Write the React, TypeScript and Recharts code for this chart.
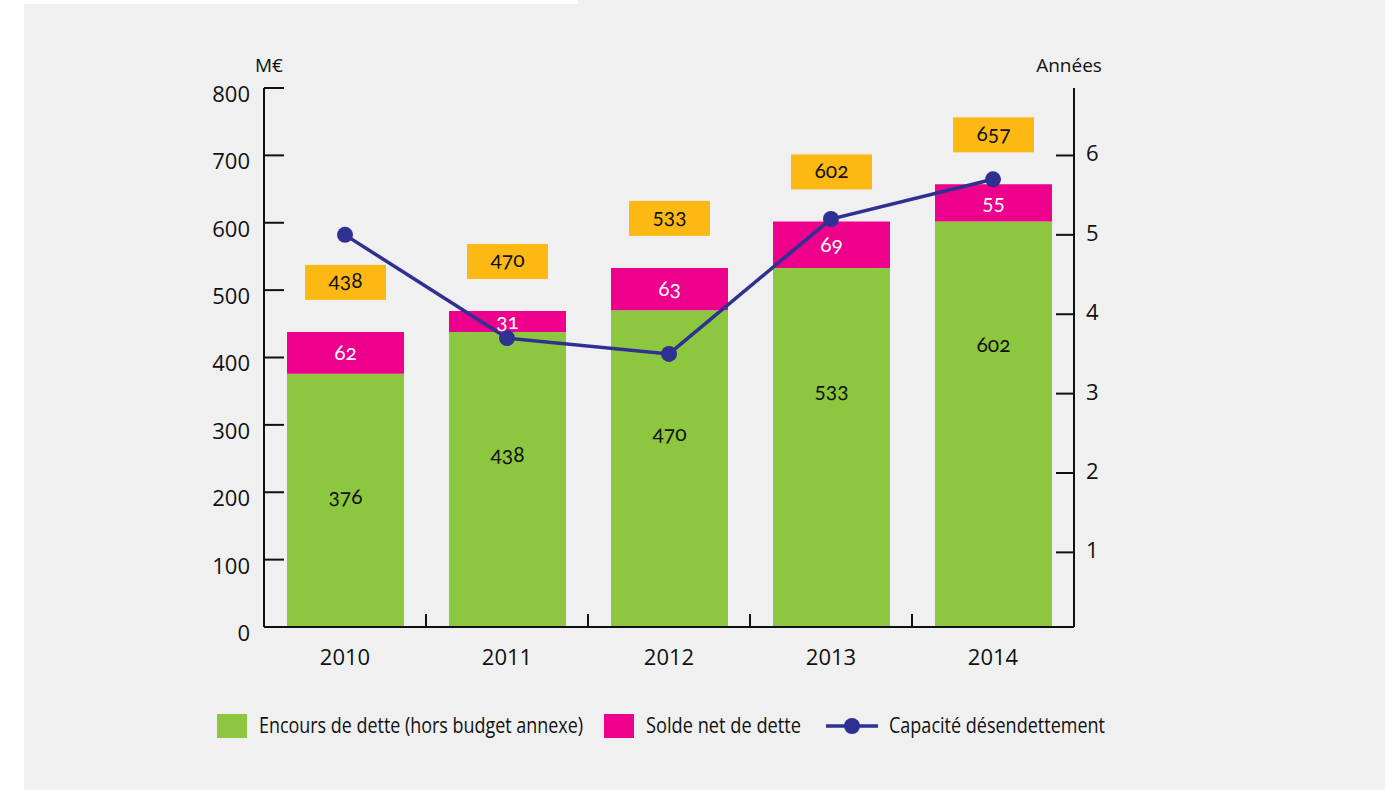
import React from "react";
import { ComposedChart, Bar, Line, XAxis, YAxis, LabelList } from "recharts";

const years = ["2010", "2011", "2012", "2013", "2014"];
const encours = [376, 438, 470, 533, 602];
const soldeNet = [62, 31, 63, 69, 55];
const totals = [438, 470, 533, 602, 657];
const capacite = [5.0, 3.7, 3.5, 5.2, 5.7];
const leftTicks = [0, 100, 200, 300, 400, 500, 600, 700, 800];
const rightTicks = [1, 2, 3, 4, 5, 6];

const GREEN = "#8dc63f";
const PINK = "#ec008c";
const ORANGE = "#fdb913";
const BLUE = "#2e3192";
const BG = "#f0f0f0";
const INK = "#111";

const W = 1397;
const H = 790;
const PLOT = { left: 264, top: 88, right: 1074, bottom: 627 };
const AXIS_W = 60;
const XAXIS_H = 50;
const BAND = (PLOT.right - PLOT.left) / years.length;

const TICK_FONT = "'Open Sans', sans-serif";
const LABEL_FONT = "Lato, 'Noto Sans', sans-serif";
const LEGEND_FONT = "'Open Sans', sans-serif";

const data = years.map((year, i) => ({
  year,
  encours: encours[i],
  solde: soldeNet[i],
  total: totals[i],
  capacite: capacite[i],
}));

const numStyle = { fontVariantNumeric: "oldstyle-nums", fontFeatureSettings: '"onum"' } as const;

function LeftTick(p: any) {
  const ax = p.x + 14;
  return (
    <g>
      <line x1={ax} x2={ax + 20} y1={p.y} y2={p.y} stroke={INK} strokeWidth={2} />
      <text x={p.x} y={p.y + 8} textAnchor="end" dominantBaseline="middle" fontSize={22} fontFamily={TICK_FONT} fill={INK}>
        {p.payload.value}
      </text>
    </g>
  );
}

function RightTick(p: any) {
  const ax = p.x - 12;
  return (
    <g>
      <line x1={ax} x2={ax - 18} y1={p.y} y2={p.y} stroke={INK} strokeWidth={2} />
      <text x={p.x} y={p.y} textAnchor="start" dominantBaseline="middle" fontSize={22} fontFamily={TICK_FONT} fill={INK}>
        {p.payload.value}
      </text>
    </g>
  );
}

function XTick(p: any) {
  const ay = p.y - 18;
  return (
    <g>
      {p.index < years.length - 1 && (
        <line x1={p.x + BAND / 2} x2={p.x + BAND / 2} y1={ay} y2={ay - 13} stroke={INK} strokeWidth={2} />
      )}
      <text x={p.x} y={ay + 32} textAnchor="middle" dominantBaseline="middle" fontSize={22} fontFamily={TICK_FONT} fill={INK}>
        {p.payload.value}
      </text>
    </g>
  );
}

function AxisTitle(p: any) {
  const vb = p.viewBox;
  const x = p.side === "left" ? vb.x + vb.width + 5 : vb.x - 5;
  return (
    <text x={x} y={vb.y - 21} textAnchor="middle" dominantBaseline="middle" fontSize={19} fontFamily={TICK_FONT} fill={INK}>
      {p.text}
    </text>
  );
}

function box(p: any) {
  const vb = p.viewBox ?? p;
  return { x: p.x ?? vb.x, y: p.y ?? vb.y, width: p.width ?? vb.width, height: p.height ?? vb.height };
}

function GreenLabel(p: any) {
  const b = box(p);
  return (
    <text x={b.x + b.width / 2} y={b.y + 125} textAnchor="middle" dominantBaseline="middle" fontSize={21} fontFamily={LABEL_FONT} fill={INK} style={numStyle}>
      {p.value}
    </text>
  );
}

function PinkLabel(p: any) {
  const b = box(p);
  return (
    <text x={b.x + b.width / 2} y={b.y + b.height / 2 + 2} textAnchor="middle" dominantBaseline="middle" fontSize={21} fontFamily={LABEL_FONT} fill="#fff" style={numStyle}>
      {p.value}
    </text>
  );
}

function TotalLabel(p: any) {
  const b = box(p);
  const cx = b.x + b.width / 2;
  const bottom = b.y - 32;
  return (
    <g>
      <rect x={cx - 40.5} y={bottom - 35} width={81} height={35} fill={ORANGE} />
      <text x={cx} y={bottom - 17} textAnchor="middle" dominantBaseline="middle" fontSize={21} fontFamily={LABEL_FONT} fill={INK} style={numStyle}>
        {p.value}
      </text>
    </g>
  );
}

const legendItems = [
  { label: "Encours de dette (hors budget annexe)", kind: "box", color: GREEN, x: 217, textX: 259, textW: 324 },
  { label: "Solde net de dette", kind: "box", color: PINK, x: 604, textX: 646, textW: 155 },
  { label: "Capacité désendettement", kind: "line", color: BLUE, x: 826, textX: 889, textW: 216 },
];

function Legend() {
  return (
    <svg width={W} height={40} style={{ position: "absolute", left: 0, top: 707 }}>
      {legendItems.map((it) => (
        <g key={it.label}>
          {it.kind === "box" ? (
            <rect x={it.x} y={7} width={30} height={24} fill={it.color} />
          ) : (
            <g>
              <line x1={it.x} x2={it.x + 52} y1={19} y2={19} stroke={it.color} strokeWidth={3.5} />
              <circle cx={it.x + 26} cy={19} r={8} fill={it.color} />
            </g>
          )}
          <text
            x={it.textX}
            y={20}
            dominantBaseline="middle"
            fontSize={21}
            fontFamily={LEGEND_FONT}
            fill={INK}
            textLength={it.textW}
            lengthAdjust="spacingAndGlyphs"
          >
            {it.label}
          </text>
        </g>
      ))}
    </svg>
  );
}

export default function App() {
  return (
    <div style={{ position: "absolute", left: 0, top: 0, width: W, height: H, background: "#fff", overflow: "hidden" }}>
      <div style={{ position: "absolute", left: 24, top: 4, width: 1385 - 24, height: H - 4, background: BG }} />
      <div style={{ position: "absolute", left: 578, top: 0, width: 1385 - 578, height: 4, background: BG }} />
      <div style={{ position: "absolute", left: 0, top: 0 }}>
        <ComposedChart
          width={W}
          height={H}
          data={data}
          margin={{ top: PLOT.top, left: PLOT.left - AXIS_W, right: W - PLOT.right - AXIS_W, bottom: H - PLOT.bottom - XAXIS_H }}
        >
          <XAxis
            dataKey="year"
            height={XAXIS_H}
            interval={0}
            tickLine={false}
            tickSize={0}
            tickMargin={18}
            axisLine={{ stroke: INK, strokeWidth: 2 }}
            tick={(p: any) => <XTick {...p} />}
          />
          <YAxis
            yAxisId="left"
            width={AXIS_W}
            domain={[0, 800]}
            ticks={leftTicks}
            interval={0}
            tickLine={false}
            tickSize={0}
            tickMargin={14}
            axisLine={{ stroke: INK, strokeWidth: 2 }}
            tick={(p: any) => <LeftTick {...p} />}
            label={<AxisTitle text="M€" side="left" />}
          />
          <YAxis
            yAxisId="right"
            orientation="right"
            width={AXIS_W}
            domain={[0.06, 6.85]}
            ticks={rightTicks}
            interval={0}
            tickLine={false}
            tickSize={0}
            tickMargin={12}
            axisLine={{ stroke: INK, strokeWidth: 2 }}
            tick={(p: any) => <RightTick {...p} />}
            label={<AxisTitle text="Années" side="right" />}
          />
          <Bar yAxisId="left" dataKey="encours" stackId="a" fill={GREEN} barSize={117} isAnimationActive={false}>
            <LabelList dataKey="encours" content={(p: any) => <GreenLabel {...p} />} />
          </Bar>
          <Bar yAxisId="left" dataKey="solde" stackId="a" fill={PINK} barSize={117} isAnimationActive={false}>
            <LabelList dataKey="solde" content={(p: any) => <PinkLabel {...p} />} />
            <LabelList dataKey="total" content={(p: any) => <TotalLabel {...p} />} />
          </Bar>
          <Line
            yAxisId="right"
            dataKey="capacite"
            type="linear"
            stroke={BLUE}
            strokeWidth={3.5}
            dot={{ r: 8, fill: BLUE, stroke: BLUE, strokeWidth: 0 }}
            activeDot={false}
            isAnimationActive={false}
          />
        </ComposedChart>
      </div>
      <Legend />
    </div>
  );
}
